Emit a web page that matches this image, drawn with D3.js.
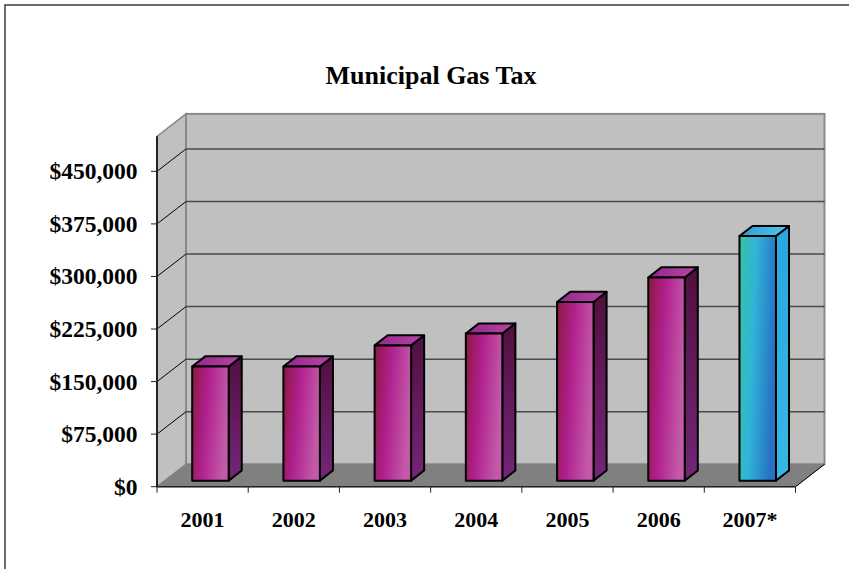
<!DOCTYPE html>
<html><head><meta charset="utf-8">
<script src="https://cdnjs.cloudflare.com/ajax/libs/d3/7.8.5/d3.min.js"></script>
<style>html,body{margin:0;padding:0;background:#fff;overflow:hidden}</style>
</head><body>
<svg id="chart" width="849" height="569"></svg>
<script>
const categories = ["2001","2002","2003","2004","2005","2006","2007*"];
const values = [163000, 163000, 193000, 210000, 255000, 290000, 349000];
const highlight = [false,false,false,false,false,false,true];
const tickValues = [0, 75000, 150000, 225000, 300000, 375000, 450000];
const titleText = "Municipal Gas Tax";

const svg = d3.select("#chart");
const FONT = "'Liberation Serif','Times New Roman',serif";

const X0 = 157, X1 = 795.5, Y0 = 486.7, Y1 = 136.3;
const DX = 29, DY = -22.4;         // full depth offset
const F1 = 0.27, F2 = 0.72;        // bar depth span

const x = d3.scaleBand().domain(categories).range([X0, X1]).paddingInner(0.6).paddingOuter(0.3);
const xTick = d3.scaleLinear().domain([0, categories.length]).range([X0, X1]);
const y = d3.scaleLinear().domain([0, 500000]).range([Y0, Y1]);

// outer border
svg.append("rect").attr("x",5).attr("y",5).attr("width",900).attr("height",700)
  .attr("fill","none").attr("stroke","#3a3a3a").attr("stroke-width",1.5);

// title
svg.append("text").attr("x",431).attr("y",84).attr("text-anchor","middle")
  .attr("font-family",FONT).attr("font-weight","bold").attr("font-size",26)
  .attr("fill","#000").text(titleText);

const defs = svg.append("defs");
function grad(id, stops, x2, y2){
  const g = defs.append("linearGradient").attr("id",id)
    .attr("x1",0).attr("y1",0).attr("x2",x2).attr("y2",y2);
  stops.forEach(s=>g.append("stop").attr("offset",s[0]).attr("stop-color",s[1]));
}
grad("mFront",[[0,"#8c1840"],[0.45,"#b0208e"],[1,"#c25aa8"]],1,0.25);
grad("mSide",[[0,"#50103f"],[0.5,"#661a5e"],[1,"#722676"]],0,1);
grad("mTop",[[0,"#96268a"],[1,"#b448a6"]],1,0);
grad("cFront",[[0,"#38c2a4"],[0.45,"#2fb4d8"],[1,"#2872c4"]],1,0.25);
grad("cSide",[[0,"#2aa6dc"],[1,"#36b8e6"]],0,1);
grad("cTop",[[0,"#2c9ed6"],[1,"#52c6ea"]],1,0);

const line = d3.line();
const pts = (arr)=>line(arr)+"Z";

// side wall
svg.append("path").attr("d",pts([[X0,Y0],[X0+DX,Y0+DY],[X0+DX,Y1+DY],[X0,Y1]]))
  .attr("fill","#c0c0c0").attr("stroke","#8a8a8a").attr("stroke-width",1.5);
// back wall
svg.append("rect").attr("x",X0+DX).attr("y",Y1+DY).attr("width",X1-X0).attr("height",Y0-Y1)
  .attr("fill","#c0c0c0").attr("stroke","#8a8a8a").attr("stroke-width",2);
// floor
svg.append("path").attr("d",pts([[X0,Y0],[X1,Y0],[X1+DX,Y0+DY],[X0+DX,Y0+DY]]))
  .attr("fill","#808080").attr("stroke","#808080").attr("stroke-width",1);
svg.append("line").attr("x1",X1).attr("y1",Y0).attr("x2",X1+DX).attr("y2",Y0+DY)
  .attr("stroke","#000").attr("stroke-width",1);

// gridlines
const gridVals = tickValues.filter(v=>v>0);
svg.append("g").selectAll("line").data(gridVals).join("line")
  .attr("x1",X0+DX).attr("x2",X1+DX).attr("y1",d=>y(d)+DY).attr("y2",d=>y(d)+DY)
  .attr("stroke","#4a4a4a").attr("stroke-width",1.5);
svg.append("g").selectAll("line").data(gridVals).join("line")
  .attr("x1",X0).attr("x2",X0+DX).attr("y1",d=>y(d)).attr("y2",d=>y(d)+DY)
  .attr("stroke","#000").attr("stroke-width",1);

// bars
const bars = svg.append("g");
categories.forEach((c,i)=>{
  const v = values[i];
  const pre = highlight[i] ? "c" : "m";
  const xl = x(c), w = x.bandwidth();
  const fx = xl + F1*DX, fy0 = y(0) + F1*DY, fy1 = y(v) + F1*DY;
  const bx = xl + F2*DX, by0 = y(0) + F2*DY, by1 = y(v) + F2*DY;
  const g = bars.append("g").attr("stroke","#000").attr("stroke-width",2).attr("stroke-linejoin","round");
  g.append("path").attr("d",pts([[fx+w,fy1],[bx+w,by1],[bx+w,by0],[fx+w,fy0]])).attr("fill",`url(#${pre}Side)`);
  g.append("path").attr("d",pts([[fx,fy1],[fx+w,fy1],[bx+w,by1],[bx,by1]])).attr("fill",`url(#${pre}Top)`);
  g.append("rect").attr("x",fx).attr("y",fy1).attr("width",w).attr("height",fy0-fy1).attr("fill",`url(#${pre}Front)`);
});

// axes
const yAxis = svg.append("g");
yAxis.append("line").attr("x1",X0).attr("x2",X0).attr("y1",Y1).attr("y2",Y0).attr("stroke","#222").attr("stroke-width",2);
yAxis.selectAll("line.t").data(tickValues).join("line").attr("class","t")
  .attr("x1",X0-6).attr("x2",X0).attr("y1",d=>y(d)).attr("y2",d=>y(d)).attr("stroke","#222").attr("stroke-width",1);
const fmt = d3.format("$,");
yAxis.selectAll("text").data(tickValues).join("text")
  .attr("x",137.5).attr("y",d=>y(d)+8).attr("text-anchor","end")
  .attr("font-family",FONT).attr("font-weight","bold").attr("font-size",23.5).attr("fill","#000")
  .text(d=>fmt(d));

const xAxis = svg.append("g");
xAxis.append("line").attr("x1",X0).attr("x2",X1).attr("y1",Y0).attr("y2",Y0).attr("stroke","#222").attr("stroke-width",1.5);
xAxis.selectAll("line.t").data(d3.range(categories.length+1)).join("line").attr("class","t")
  .attr("x1",d=>xTick(d)).attr("x2",d=>xTick(d)).attr("y1",Y0).attr("y2",Y0+6).attr("stroke","#222").attr("stroke-width",1);
xAxis.selectAll("text").data(categories).join("text")
  .attr("x",d=>xTick(categories.indexOf(d)+0.5)).attr("y",527)
  .attr("text-anchor","middle").attr("font-family",FONT).attr("font-weight","bold").attr("font-size",22).attr("fill","#000")
  .text(d=>d);
</script>
</body></html>
